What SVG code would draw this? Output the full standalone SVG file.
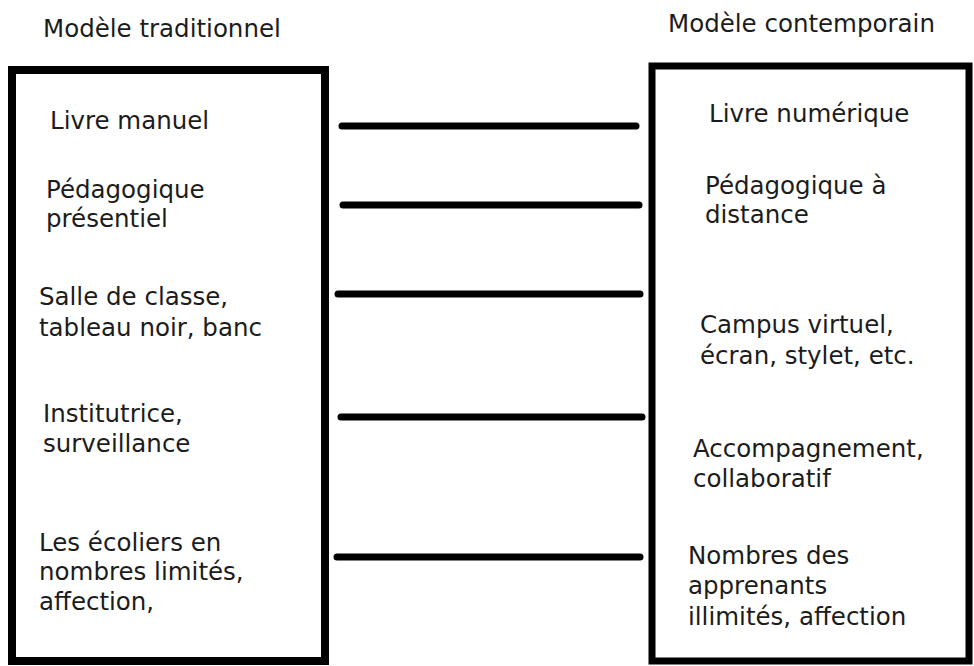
<svg xmlns="http://www.w3.org/2000/svg" width="974" height="666" viewBox="0 0 974 666">
<style>
.t{font-family:"DejaVu Sans",Verdana,sans-serif;font-size:24.5px;fill:#1c1c1c}
.box{fill:none;stroke:#000;stroke-width:8}
.c{stroke:#000;stroke-width:7;stroke-linecap:round}
</style>
<rect width="974" height="666" fill="#fff"/>
<text class="t" x="43" y="37">Modèle traditionnel</text>
<text class="t" x="668" y="32">Modèle contemporain</text>
<g id="traditionnel">
<rect class="box" x="12" y="70" width="313" height="591"/>
<text class="t" x="50" y="129">Livre manuel</text>
<text class="t" x="46" y="198">Pédagogique</text>
<text class="t" x="46" y="227">présentiel</text>
<text class="t" x="39" y="305">Salle de classe,</text>
<text class="t" x="39" y="336">tableau noir, banc</text>
<text class="t" x="43" y="422">Institutrice,</text>
<text class="t" x="43" y="452">surveillance</text>
<text class="t" x="39" y="551">Les écoliers en</text>
<text class="t" x="39" y="580">nombres limités,</text>
<text class="t" x="39" y="610">affection,</text>
</g>
<g id="contemporain">
<rect class="box" x="652" y="66" width="317" height="595" style="stroke-width:7"/>
<text class="t" x="709" y="122">Livre numérique</text>
<text class="t" x="705" y="194">Pédagogique à</text>
<text class="t" x="705" y="223">distance</text>
<text class="t" x="700" y="333">Campus virtuel,</text>
<text class="t" x="700" y="364">écran, stylet, etc.</text>
<text class="t" x="693" y="457">Accompagnement,</text>
<text class="t" x="693" y="487">collaboratif</text>
<text class="t" x="688" y="564">Nombres des</text>
<text class="t" x="688" y="594">apprenants</text>
<text class="t" x="688" y="625">illimités, affection</text>
</g>
<g id="connectors">
<line class="c" x1="342" y1="126" x2="636" y2="126"/>
<line class="c" x1="343" y1="205" x2="639" y2="205"/>
<line class="c" x1="338" y1="294" x2="640" y2="294"/>
<line class="c" x1="341" y1="417" x2="642" y2="417"/>
<line class="c" x1="337" y1="557" x2="640" y2="557"/>
</g>
</svg>
